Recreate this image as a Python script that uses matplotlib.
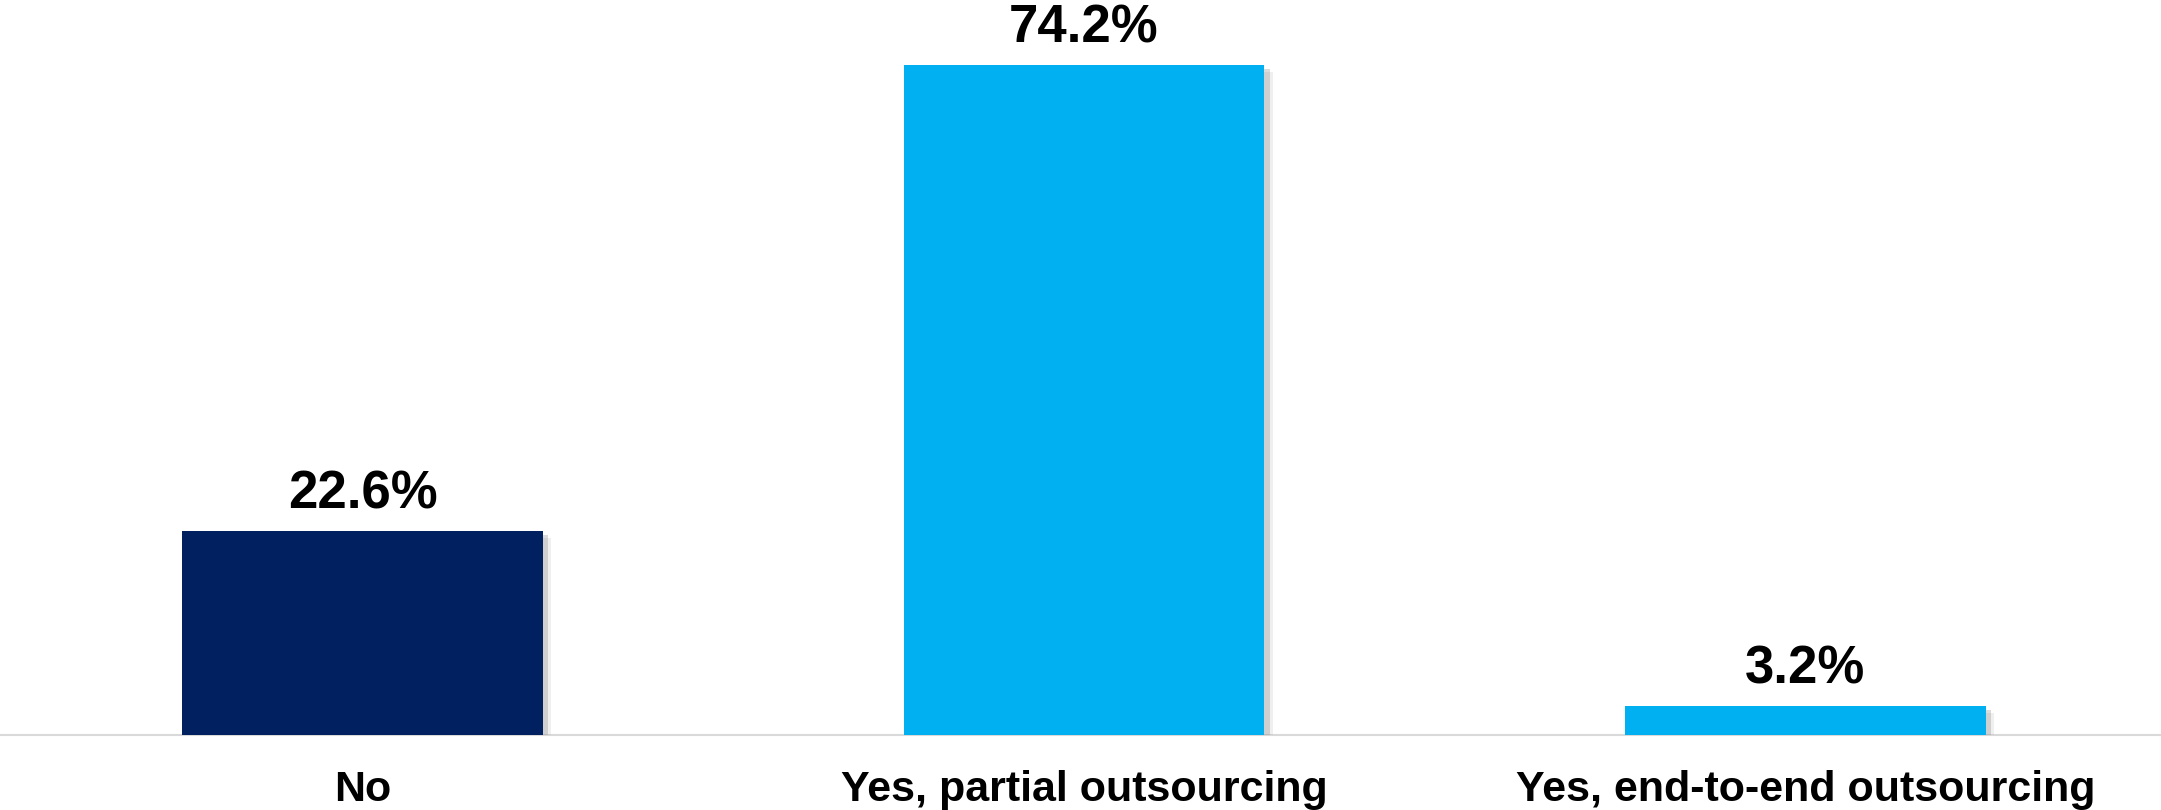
import matplotlib
matplotlib.use("Agg")
import matplotlib.pyplot as plt
import matplotlib.patheffects as pe

categories = ["No", "Yes, partial outsourcing", "Yes, end-to-end outsourcing"]
values = [22.6, 74.2, 3.2]
labels = ["22.6%", "74.2%", "3.2%"]
colors = ["#002060", "#00B0F0", "#00B0F0"]

plt.rcParams['font.family'] = ['Liberation Sans', 'DejaVu Sans']

fig = plt.figure(figsize=(21.61, 8.10), dpi=100)
ax = fig.add_axes([0, 75/810, 1, 735/810])

x = range(len(categories))
bars = ax.bar(x, values, width=0.5, color=colors, zorder=3)
for b in bars:
    b.set_path_effects([
        pe.SimplePatchShadow(offset=(6, -5), shadow_rgbFace='#999999', alpha=0.15),
        pe.SimplePatchShadow(offset=(4, -3), shadow_rgbFace='#888888', alpha=0.3),
        pe.Normal()])

for xi, v, lab in zip(x, values, labels):
    ax.annotate(lab, (xi, v), xytext=(0, 16), textcoords='offset points',
                ha='center', va='baseline', fontsize=38, fontweight='bold', color='black')

ax.set_xlim(-0.5025, 2.493)
ax.set_ylim(0, 81.4)
ax.set_xticks(list(x))
ax.set_xticklabels(categories, fontsize=31, fontweight='bold')
ax.tick_params(axis='x', length=0, pad=25)
ax.set_yticks([])
for s in ['top', 'left', 'right']:
    ax.spines[s].set_visible(False)
ax.spines['bottom'].set_color('#d9d9d9')
ax.spines['bottom'].set_linewidth(1.5)
ax.spines['bottom'].set_zorder(2)

fig.savefig("out.png", dpi=100, facecolor='white')
